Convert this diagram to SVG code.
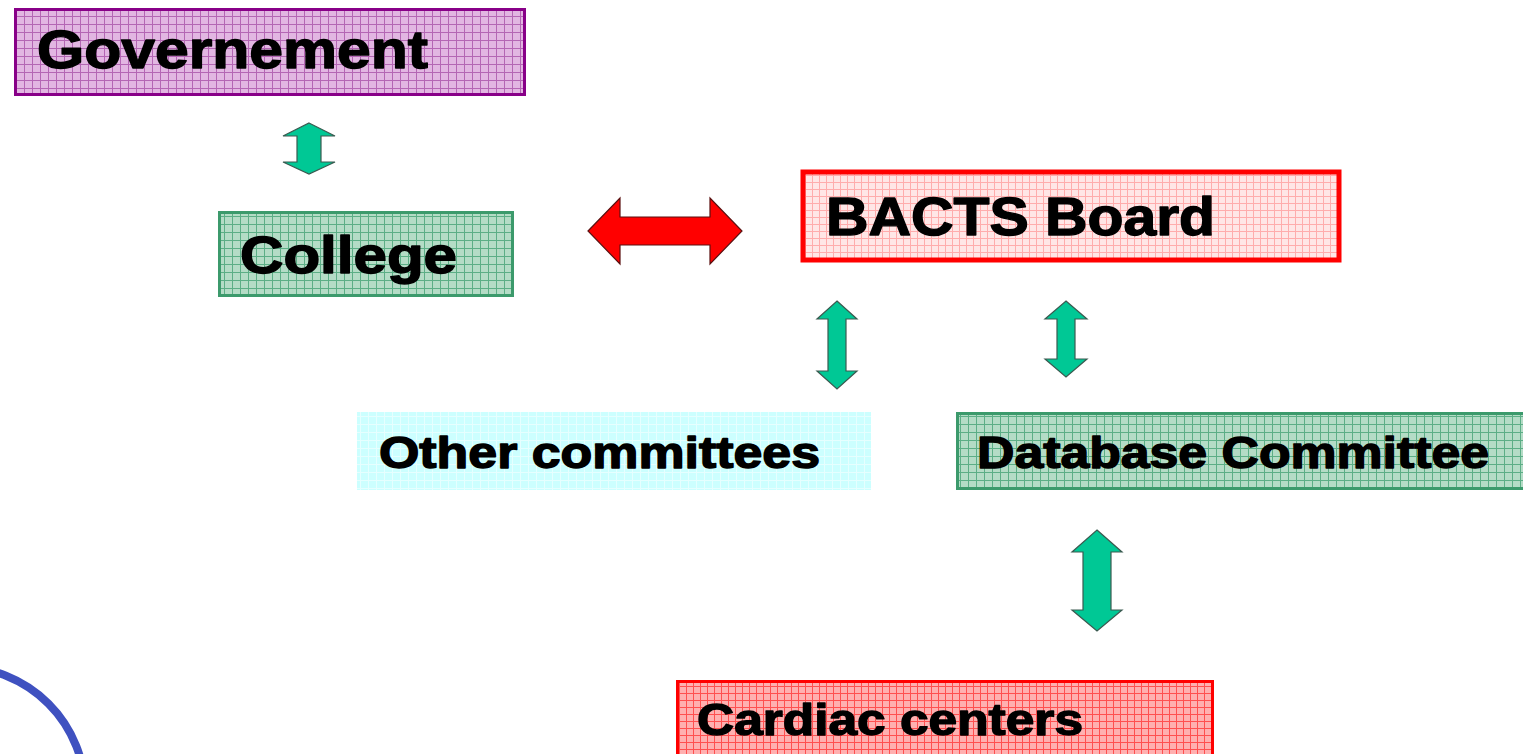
<svg xmlns="http://www.w3.org/2000/svg" width="1523" height="754" viewBox="0 0 1523 754">
<defs>
<pattern id="gPurple" width="8" height="8" patternUnits="userSpaceOnUse"><rect width="8" height="8" fill="#e2b6e2"/><path d="M0 0.5H8M0.5 0V8" stroke="#b466b4" stroke-width="1"/></pattern>
<pattern id="gGreen" width="8" height="8" patternUnits="userSpaceOnUse"><rect width="8" height="8" fill="#b4dcc6"/><path d="M0 0.5H8M0.5 0V8" stroke="#5cae86" stroke-width="1"/></pattern>
<pattern id="gPink" width="7" height="7" patternUnits="userSpaceOnUse"><rect width="7" height="7" fill="#ffe6e6"/><path d="M0 0.5H7M0.5 0V7" stroke="#ffacac" stroke-width="1"/></pattern>
<pattern id="gRed" width="7" height="7" patternUnits="userSpaceOnUse"><rect width="7" height="7" fill="#ffb0b0"/><path d="M0 0.5H7M0.5 0V7" stroke="#ff5050" stroke-width="1"/></pattern>
<pattern id="gCyan" width="8" height="8" patternUnits="userSpaceOnUse"><rect width="8" height="8" fill="#ccffff"/><path d="M0 0.5H8M0.5 0V8" stroke="#e6ffff" stroke-width="1"/></pattern>
</defs>
<style>
text{font-family:"Liberation Sans",Arial,sans-serif;font-weight:bold;fill:#000;stroke:#000;stroke-width:1.4;stroke-linejoin:round}
.garrow{fill:#00c895;stroke:#3a5a50;stroke-width:1.2;stroke-linejoin:miter}
.rarrow{fill:#ff0000;stroke:#5a1010;stroke-width:1.2}
</style>
<rect width="1523" height="754" fill="#ffffff"/>

<g id="governement">
<rect x="15.5" y="9.5" width="509" height="85" fill="url(#gPurple)" stroke="#880088" stroke-width="3"/>
<text x="37" y="68" font-size="53" textLength="391" lengthAdjust="spacingAndGlyphs">Governement</text>
</g>

<g id="college">
<rect x="219.5" y="212.5" width="293" height="83" fill="url(#gGreen)" stroke="#3c9a6c" stroke-width="3"/>
<text x="240" y="273" font-size="52" textLength="217" lengthAdjust="spacingAndGlyphs">College</text>
</g>

<g id="bacts-board">
<rect x="803" y="172" width="536" height="88" fill="url(#gPink)" stroke="#ff0000" stroke-width="5"/>
<text x="826" y="235" font-size="54" textLength="389" lengthAdjust="spacingAndGlyphs">BACTS Board</text>
</g>

<g id="other-committees">
<rect x="357" y="412" width="514" height="78" fill="url(#gCyan)"/>
<text x="379" y="468" font-size="44" textLength="441" lengthAdjust="spacingAndGlyphs">Other committees</text>
</g>

<g id="database-committee">
<rect x="957.5" y="413.5" width="580" height="75" fill="url(#gGreen)" stroke="#3c9a6c" stroke-width="3"/>
<text x="977" y="468" font-size="44" textLength="512" lengthAdjust="spacingAndGlyphs">Database Committee</text>
</g>

<g id="cardiac-centers">
<rect x="677.5" y="681.5" width="535" height="90" fill="url(#gRed)" stroke="#ff0000" stroke-width="3"/>
<text x="697" y="735" font-size="45" textLength="386" lengthAdjust="spacingAndGlyphs">Cardiac centers</text>
</g>

<g id="connectors">
<path class="garrow" d="M309 123 L335 136 L321 136 L321 162 L335 162 L309 174 L283 162 L297 162 L297 136 L283 136 Z"/>
<path class="rarrow" d="M588 231 L620 198 L620 217 L710 217 L710 198 L742 231 L710 264 L710 245 L620 245 L620 264 Z"/>
<path class="garrow" d="M837 301 L857 319 L846 319 L846 371 L857 371 L837 389 L817 371 L828 371 L828 319 L817 319 Z"/>
<path class="garrow" d="M1066 301 L1087 319 L1075 319 L1075 359 L1087 359 L1066 377 L1045 359 L1057 359 L1057 319 L1045 319 Z"/>
<path class="garrow" d="M1097 530 L1122 552 L1111 552 L1111 610 L1122 610 L1097 631 L1072 610 L1083 610 L1083 552 L1072 552 Z"/>
</g>

<path d="M-40 667 A125 125 0 0 1 85 792" fill="none" stroke="#3f51c0" stroke-width="8"/>
</svg>
